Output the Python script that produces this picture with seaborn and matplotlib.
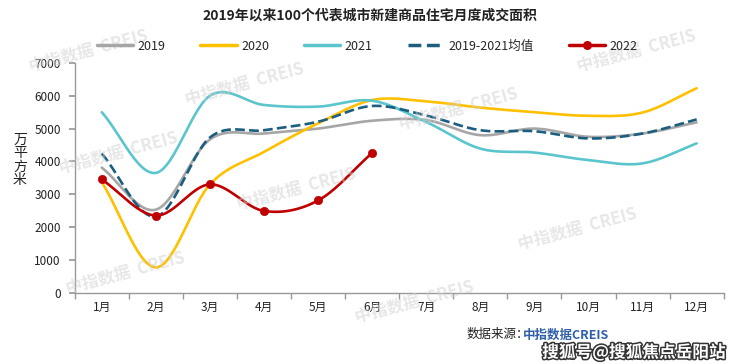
import numpy as np
import pandas as pd
import matplotlib
matplotlib.use("Agg")
import matplotlib.pyplot as plt
import matplotlib.patheffects as pe
from matplotlib.lines import Line2D
import seaborn as sns

months = ["1月", "2月", "3月", "4月", "5月", "6月", "7月", "8月", "9月", "10月", "11月", "12月"]
v2019 = [3810, 2530, 4670, 4850, 5000, 5240, 5260, 4800, 5000, 4750, 4850, 5190]
v2020 = [3370, 770, 3300, 4290, 5160, 5870, 5830, 5640, 5500, 5390, 5490, 6230]
v2021 = [5500, 3650, 6000, 5720, 5670, 5850, 5200, 4390, 4270, 4040, 3940, 4550]
vavg = [4240, 2320, 4730, 4950, 5210, 5690, 5400, 4950, 4920, 4700, 4850, 5280]
v2022 = [3450, 2350, 3300, 2490, 2810, 4260]
yticks = [0, 1000, 2000, 3000, 4000, 5000, 6000, 7000]

sns.set_theme(style="white")
plt.rcParams["font.family"] = ["Noto Sans CJK SC", "DejaVu Sans"]

fig = plt.figure(figsize=(7.4, 3.64), dpi=100)
ax = fig.add_axes([0.101, 0.196, 0.877, 0.631])


def smooth(vals, n=30):
    """Catmull-Rom rendering of a series (display only)."""
    y = np.asarray(vals, float)
    x = np.arange(1, len(y) + 1, dtype=float)
    m = np.zeros_like(y)
    m[1:-1] = (y[2:] - y[:-2]) / 2
    m[0] = y[1] - y[0]
    m[-1] = y[-1] - y[-2]
    xs, ys = [], []
    for i in range(len(y) - 1):
        t = np.linspace(0, 1, n, endpoint=(i == len(y) - 2))
        h00 = 2 * t**3 - 3 * t**2 + 1
        h10 = t**3 - 2 * t**2 + t
        h01 = -2 * t**3 + 3 * t**2
        h11 = t**3 - t**2
        xs.append(x[i] + t)
        ys.append(h00 * y[i] + h10 * m[i] + h01 * y[i + 1] + h11 * m[i + 1])
    return np.concatenate(xs), np.concatenate(ys)


series = [
    ("2019", v2019, "#A6A6A6", "-"),
    ("2020", v2020, "#FFC000", "-"),
    ("2021", v2021, "#5BC5CD", "-"),
    ("2019-2021均值", vavg, "#1B5E80", "--"),
    ("2022", v2022, "#C00000", "-"),
]
handles = []
for name, vals, col, ls in series:
    sx, sy = smooth(vals)
    df = pd.DataFrame({"x": sx, "y": sy})
    sns.lineplot(data=df, x="x", y="y", ax=ax, color=col, linewidth=1.9,
                 linestyle=ls, sort=False, estimator=None, zorder=3)
    if name == "2022":
        dp = pd.DataFrame({"x": np.arange(1, len(vals) + 1), "y": vals})
        sns.scatterplot(data=dp, x="x", y="y", ax=ax, color=col, s=36,
                        edgecolor=col, zorder=4)
        handles.append(Line2D([], [], color=col, lw=2.5, marker="o", markersize=5.5))
    else:
        handles.append(Line2D([], [], color=col, lw=2.5, linestyle=ls))

ax.set_xlim(0.5, 12.5)
ax.set_ylim(0, 7000)
ax.set_yticks(yticks)
ax.set_yticklabels([str(v) for v in yticks], fontsize=8.5, color="#222222")
ax.set_xticks(np.arange(1, 13))
ax.set_xticklabels(months, fontsize=8.5, color="#222222")
ax.set_xticks(np.arange(0.5, 13, 1), minor=True)
ax.tick_params(axis="x", which="major", length=0, pad=6)
ax.tick_params(axis="x", which="minor", length=4, color="#999999", direction="out", bottom=True)
ax.tick_params(axis="y", which="major", length=4, color="#999999", direction="out", left=True, pad=6)
ax.set_xlabel("")
ax.set_ylabel("")
for s in ["top", "right"]:
    ax.spines[s].set_visible(False)
for s in ["left", "bottom"]:
    ax.spines[s].set_color("#999999")
    ax.spines[s].set_linewidth(1.0)

fig.text(0.027, 0.56, "万\n平\n方\n米", ha="center", va="center", fontsize=10,
         linespacing=0.95, color="#222222")

fig.text(0.5, 0.957, "2019年以来100个代表城市新建商品住宅月度成交面积", ha="center",
         va="center", fontsize=10, fontweight="bold", color="#222222")

fig.legend(handles, [s[0] for s in series], loc="center", ncol=5,
           bbox_to_anchor=(0.496, 0.873), frameon=False, fontsize=9,
           handlelength=2.9, columnspacing=2.8, handletextpad=0.35)

# watermarks
wm = [(0.12, 0.86), (0.33, 0.77), (0.16, 0.58), (0.40, 0.48), (0.62, 0.70),
      (0.78, 0.37), (0.17, 0.25), (0.56, 0.17), (0.86, 0.86)]
for x, y in wm:
    fig.text(x, y, "中指数据  CREIS", ha="center", va="center", fontsize=12,
             rotation=15, color="#D0D0D0", alpha=0.5, fontweight="bold", zorder=0)

fig.text(0.630, 0.080, "数据来源：", ha="left", va="center", fontsize=9, color="#222222")
fig.text(0.707, 0.080, "中指数据CREIS", ha="left", va="center", fontsize=9,
         color="#2E5FA8", fontweight="bold")
fig.text(0.980, 0.033, "搜狐号@搜狐焦点岳阳站", ha="right", va="center", fontsize=12,
         color="white", fontweight="bold",
         path_effects=[pe.withStroke(linewidth=2.2, foreground="#333333")])

fig.savefig("out.png", dpi=100)
